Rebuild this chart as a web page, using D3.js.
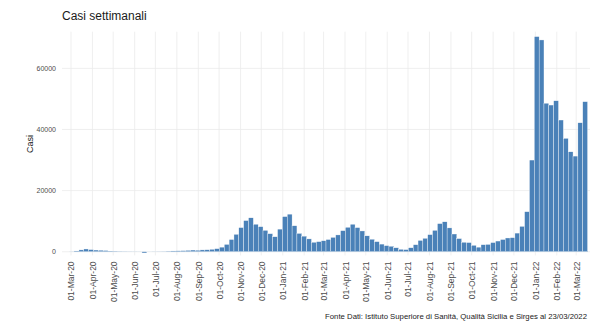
<!DOCTYPE html>
<html>
<head>
<meta charset="utf-8">
<script src="https://cdn.jsdelivr.net/npm/d3@7"></script>
<style>
  html, body { margin: 0; padding: 0; background: #ffffff; }
  svg { display: block; font-family: "Liberation Sans", Arial, Helvetica, sans-serif; }
</style>
</head>
<body>
<svg id="chart" width="600" height="330"></svg>
<script>
// Week start dates (Mondays)
const weeks = [
  "2020-03-02","2020-03-09","2020-03-16","2020-03-23","2020-03-30","2020-04-06","2020-04-13","2020-04-20","2020-04-27",
  "2020-05-04","2020-05-11","2020-05-18","2020-05-25","2020-06-01","2020-06-08","2020-06-15","2020-06-22","2020-06-29",
  "2020-07-06","2020-07-13","2020-07-20","2020-07-27","2020-08-03","2020-08-10","2020-08-17","2020-08-24","2020-08-31",
  "2020-09-07","2020-09-14","2020-09-21","2020-09-28","2020-10-05","2020-10-12","2020-10-19","2020-10-26","2020-11-02",
  "2020-11-09","2020-11-16","2020-11-23","2020-11-30","2020-12-07","2020-12-14","2020-12-21","2020-12-28",
  "2021-01-04","2021-01-11","2021-01-18","2021-01-25","2021-02-01","2021-02-08","2021-02-15","2021-02-22","2021-03-01",
  "2021-03-08","2021-03-15","2021-03-22","2021-03-29","2021-04-05","2021-04-12","2021-04-19","2021-04-26","2021-05-03",
  "2021-05-10","2021-05-17","2021-05-24","2021-05-31","2021-06-07","2021-06-14","2021-06-21","2021-06-28","2021-07-05",
  "2021-07-12","2021-07-19","2021-07-26","2021-08-02","2021-08-09","2021-08-16","2021-08-23","2021-08-30","2021-09-06",
  "2021-09-13","2021-09-20","2021-09-27","2021-10-04","2021-10-11","2021-10-18","2021-10-25","2021-11-01","2021-11-08",
  "2021-11-15","2021-11-22","2021-11-29","2021-12-06","2021-12-13","2021-12-20","2021-12-27",
  "2022-01-03","2022-01-10","2022-01-17","2022-01-24","2022-01-31","2022-02-07","2022-02-14","2022-02-21","2022-02-28",
  "2022-03-07","2022-03-14"
];

// Weekly cases
const casi = [
  50, 250, 600, 900, 700, 550, 500, 400, 200,
  150, 100, 80, 60, 50, 40, -400, 30, 50,
  60, 80, 150, 250, 300, 350, 450, 550, 500,
  600, 650, 800, 1000, 1500, 2400, 4000, 5700, 7900,
  10200, 11100, 9000, 8200, 7000, 5900, 4900, 7400,
  11500, 12300, 8500, 6000, 5100, 4200, 3100, 3300, 3600,
  4000, 4700, 5500, 6900, 8000, 9000, 7900, 6800, 5200,
  4100, 3300, 2500, 2000, 1800, 1300, 800, 700, 1300,
  2300, 3700, 4400, 5600, 7000, 9200, 9800, 7800, 5800,
  4300, 3100, 3000, 2100, 1500, 2300, 2400, 3000, 3500,
  4000, 4500, 4600, 6100, 8300, 13100, 30000,
  70400, 69300, 48600, 48000, 49400, 43100, 37100, 32700, 31300,
  42200, 49100
];

const yTicks = [0, 20000, 40000, 60000];
const xTickDates = [
  "2020-03-01","2020-04-01","2020-05-01","2020-06-01","2020-07-01","2020-08-01","2020-09-01","2020-10-01",
  "2020-11-01","2020-12-01","2021-01-01","2021-02-01","2021-03-01","2021-04-01","2021-05-01","2021-06-01",
  "2021-07-01","2021-08-01","2021-09-01","2021-10-01","2021-11-01","2021-12-01","2022-01-01","2022-02-01","2022-03-01"
];

const titleText = "Casi settimanali";
const yLabel = "Casi";
const captionText = "Fonte Dati: Istituto Superiore di Sanità, Qualità Sicilia e Sirges al 23/03/2022";

const parse = d3.utcParse("%Y-%m-%d");
const fmt = d3.utcFormat("%d-%b-%y");
const data = weeks.map((w, i) => ({ date: parse(w), value: casi[i] }));

const svg = d3.select("#chart");
const panel = { left: 62, right: 590, top: 31.7, bottom: 255.4 };

const x = d3.scaleUtc()
  .domain([parse("2020-02-17"), parse("2022-03-21")])
  .range([panel.left, panel.right]);
const y = d3.scaleLinear()
  .domain([-1200, 72000])
  .range([panel.bottom, panel.top]);

const weekPx = x(parse("2020-03-09")) - x(parse("2020-03-02"));

// Gridlines
const grid = svg.append("g");
grid.selectAll("line.h").data(yTicks).join("line")
  .attr("x1", panel.left).attr("x2", panel.right)
  .attr("y1", d => y(d)).attr("y2", d => y(d))
  .attr("stroke", "#ebebeb").attr("stroke-width", 0.8);
grid.selectAll("line.v").data(xTickDates).join("line")
  .attr("x1", d => x(parse(d))).attr("x2", d => x(parse(d)))
  .attr("y1", panel.top).attr("y2", panel.bottom)
  .attr("stroke", "#ebebeb").attr("stroke-width", 0.8);

// Bars
svg.append("g").selectAll("rect").data(data).join("rect")
  .attr("x", d => x(d.date) - weekPx / 2)
  .attr("width", weekPx)
  .attr("y", d => Math.min(y(d.value), y(0)))
  .attr("height", d => Math.abs(y(d.value) - y(0)))
  .attr("fill", "#4a81b8")
  .attr("stroke", "#ffffff")
  .attr("stroke-width", 0.35);

// Y axis
const yAxis = d3.axisLeft(y).tickValues(yTicks).tickSize(0).tickPadding(6).tickFormat(d3.format("d"));
const gy = svg.append("g").attr("transform", `translate(${panel.left},0)`).call(yAxis);
gy.select(".domain").remove();
gy.selectAll("text").attr("fill", "#4d4d4d").attr("font-size", "7px")
  .attr("font-family", "Liberation Sans, Arial, sans-serif");

// X axis
const xAxis = d3.axisBottom(x).tickValues(xTickDates.map(parse)).tickSize(0).tickFormat(fmt);
const gx = svg.append("g").attr("transform", `translate(0,${panel.bottom})`).call(xAxis);
gx.select(".domain").remove();
gx.selectAll("text")
  .attr("fill", "#4d4d4d").attr("font-size", "8.5px")
  .attr("font-family", "Liberation Sans, Arial, sans-serif")
  .attr("transform", "rotate(-90)")
  .attr("text-anchor", "end")
  .attr("x", -6).attr("y", 0).attr("dy", "0.35em");

// Title
svg.append("text").attr("x", 62).attr("y", 19.5)
  .attr("font-size", "12px").attr("fill", "#1a1a1a").text(titleText);

// Y label
svg.append("text").attr("transform", "translate(33,144) rotate(-90)")
  .attr("text-anchor", "middle").attr("font-size", "9px").attr("fill", "#1a1a1a").text(yLabel);

// Caption
svg.append("text").attr("x", 587).attr("y", 318.5).attr("text-anchor", "end")
  .attr("font-size", "7.75px").attr("fill", "#1a1a1a").text(captionText);
</script>
</body>
</html>
